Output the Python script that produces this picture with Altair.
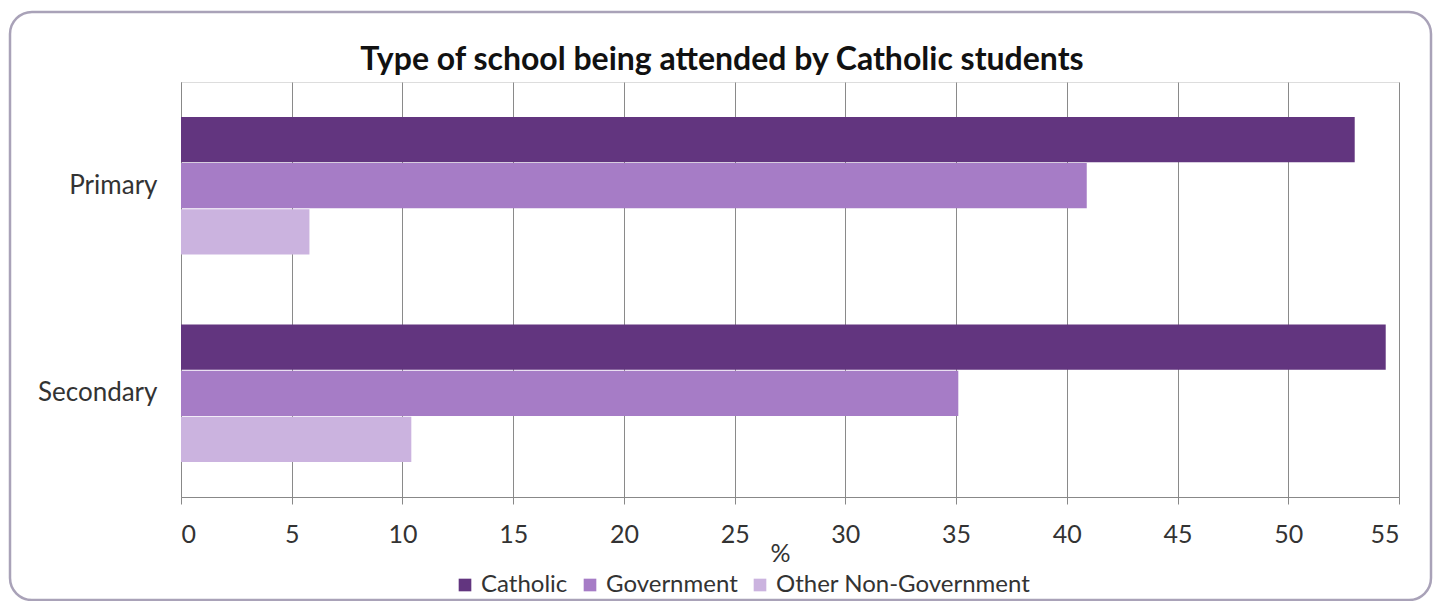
import altair as alt
import pandas as pd

levels = ["Primary", "Secondary"]
types = ["Catholic", "Government", "Other Non-Government"]
catholic = [53.0, 54.4]
government = [40.9, 35.1]
other = [5.8, 10.4]
colors = ["#62357f", "#a67cc6", "#cbb3df"]
x_ticks = list(range(0, 56, 5))
title_text = "Type of school being attended by Catholic students"

rows = []
for i, lvl in enumerate(levels):
    for t, vals in zip(types, [catholic, government, other]):
        rows.append({"level": lvl, "type": t, "value": vals[i]})
df = pd.DataFrame(rows)

FONT = "Lato"

bars = alt.Chart(df).mark_bar(strokeWidth=0).encode(
    y=alt.Y("level:N", sort=levels,
            scale=alt.Scale(paddingInner=0.337, paddingOuter=0.168),
            axis=alt.Axis(title=None, labelFontSize=26, labelColor="#333333",
                          labelFont=FONT, labelPadding=24, ticks=False,
                          domainColor="#888888", grid=False)),
    yOffset=alt.YOffset("type:N", sort=types, scale=alt.Scale(paddingInner=0.02)),
    x=alt.X("value:Q", scale=alt.Scale(domain=[0, 55], nice=False),
            axis=alt.Axis(title="%", values=x_ticks, labelFontSize=25,
                          labelColor="#333333", labelFont=FONT, labelPadding=18,
                          tickSize=7, tickColor="#888888", domainColor="#888888",
                          gridColor="#8a8a8a", titleFontSize=25, titleFont=FONT,
                          titleFontWeight="normal", titleColor="#333333",
                          titleX=599, titleY=56, titleBaseline="middle")),
    color=alt.Color("type:N", sort=types,
                    scale=alt.Scale(domain=types, range=colors),
                    legend=alt.Legend(title=None, orient="none", direction="horizontal",
                                      legendX=272, legendY=491, symbolType="square",
                                      symbolSize=160, symbolStrokeWidth=0,
                                      labelFontSize=24, labelFont=FONT, labelLimit=0,
                                      labelColor="#333333", columnPadding=10,
                                      symbolOffset=0, labelOffset=4)),
)

frame = alt.Chart(alt.Data(values=[{}])).mark_rect(
    fillOpacity=0, stroke="#a9a2b8", strokeWidth=2.5, cornerRadius=22
).encode(
    x=alt.value(-171), x2=alt.value(1250), y=alt.value(-70), y2=alt.value(518)
)

title = alt.Chart(alt.Data(values=[{"t": title_text}])).mark_text(
    font=FONT, fontSize=32, fontWeight="bold", color="#111111",
    align="center", baseline="middle"
).encode(
    text="t:N", x=alt.value(541), y=alt.value(-22)
)

chart = alt.layer(frame, bars, title).properties(
    width=1218, height=415,
    autosize=alt.AutoSizeParams(type="none"),
    padding={"left": 173, "top": 74, "right": 36, "bottom": 104},
).configure_view(stroke=None).configure(background="white")

chart.save("out.html", embed_options={"renderer": "svg", "actions": False})
